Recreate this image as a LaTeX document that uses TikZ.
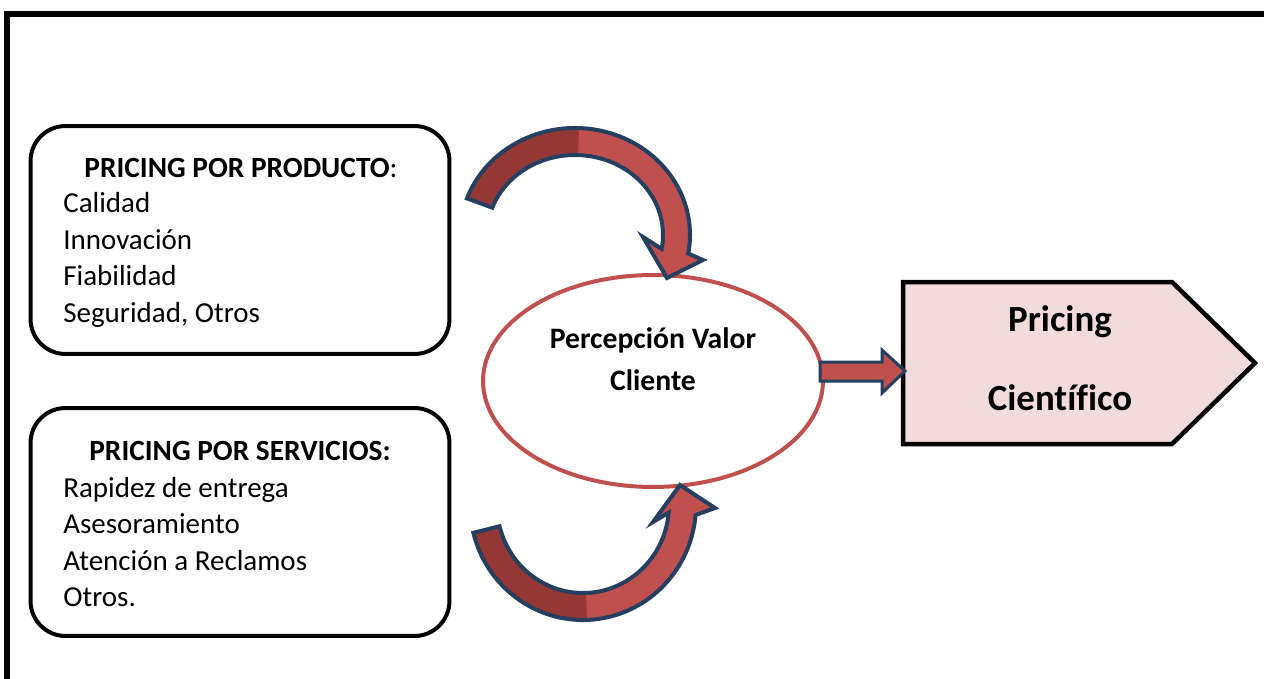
\documentclass[tikz,border=0pt]{standalone}
\usepackage{fontspec}
\setmainfont{Carlito}[Ligatures=NoCommon]
\usetikzlibrary{shapes.geometric}
\definecolor{arrowred}{HTML}{C0504D}
\definecolor{arrowdark}{HTML}{953735}
\definecolor{arrowedge}{HTML}{243F60}
\definecolor{tagfill}{HTML}{F2DCDB}
\begin{document}
\begin{tikzpicture}[x=0.02cm, y=-0.02cm]
	\def\toparrow{([shift={(575,235)}]200:115 and 107) arc[start angle=200, end angle=370, x radius=115, y radius=107]
		-- (703,260) -- (667,278) -- (643,237)
		-- ([shift={(575,235)}]370:88 and 80) arc[start angle=370, end angle=200, x radius=88, y radius=80] -- cycle}
	\def\toparrowback{([shift={(575,235)}]200:115 and 107) arc[start angle=200, end angle=272, x radius=115, y radius=107]
		-- ([shift={(575,235)}]272:88 and 80) arc[start angle=272, end angle=200, x radius=88, y radius=80] -- cycle}
	\def\botarrow{([shift={(583,505)}]166:113 and 115) arc[start angle=166, end angle=5, x radius=113, y radius=115]
		-- (715,508) -- (680,485) -- (653,522)
		-- ([shift={(583,505)}]5:86 and 88) arc[start angle=5, end angle=166, x radius=86, y radius=88] -- cycle}
	\def\botarrowback{([shift={(583,505)}]166:113 and 115) arc[start angle=166, end angle=88, x radius=113, y radius=115]
		-- ([shift={(583,505)}]88:86 and 88) arc[start angle=88, end angle=166, x radius=86, y radius=88] -- cycle}
	\tikzset{listbox/.style={draw, line width=0.08cm, rounded corners=0.7cm, minimum width=8.38cm, minimum height=4.56cm, inner sep=0pt},
		listhead/.style={font=\fontsize{16.7}{20.5}\selectfont\bfseries, inner sep=0pt},
		listtext/.style={font=\fontsize{16.5}{20.8}\selectfont, align=left, inner sep=0pt, anchor=west},
		bentarrow/.style={draw=arrowedge, line width=0.08cm},
		flatarrow/.style={draw=arrowedge, fill=arrowred, line width=0.06cm}}
	\useasboundingbox (0,0) rectangle (1264,679);
	\clip (0,0) rectangle (1264,679);
	% outer frame
	\draw[line width=0.11cm] (7,720) -- (7,14) -- (1300,14);
	% product and service boxes
	\node[listbox] (producto) at (240,240) {};
	\node[listbox] (servicios) at (240,522) {};
	\node[listhead] (prodhead) at (241,168) {PRICING POR PRODUCTO\mdseries:};
	\node[listtext] (prodlist) at (63,260) {Calidad\\Innovación\\Fiabilidad\\Seguridad, Otros};
	\node[listhead] (servhead) at (240,451) {PRICING POR SERVICIOS:};
	\node[listtext] (servlist) at (63,542) {Rapidez de entrega\\Asesoramiento\\Atención a Reclamos\\Otros.};
	% customer value
	\node[ellipse, draw=arrowred, line width=0.08cm, minimum width=6.8cm, minimum height=4.24cm, inner sep=0pt] (valor) at (653,381) {};
	\node[font=\fontsize{16.9}{21}\selectfont\bfseries, align=center] (valortext) at (653,359) {Percepción Valor\\[0.1cm]Cliente};
	% curved arrows
	\fill[arrowred] \toparrow;
	\fill[arrowdark] \toparrowback;
	\draw[bentarrow] \toparrow;
	\fill[arrowred] \botarrow;
	\fill[arrowdark] \botarrowback;
	\draw[bentarrow] \botarrow;
	% result
	\draw[line width=0.09cm, fill=tagfill] (903,282) -- (1172,282) -- (1255,363) -- (1172,444) -- (903,444) -- cycle;
	\node[font=\fontsize{21}{45}\selectfont\bfseries, align=center] (cientifico) at (1060,358) {Pricing\\Científico};
	\draw[flatarrow] (820,362) -- (882,362) -- (882,350) -- (905,371) -- (882,393) -- (882,381) -- (820,381) -- cycle;
\end{tikzpicture}
\end{document}
